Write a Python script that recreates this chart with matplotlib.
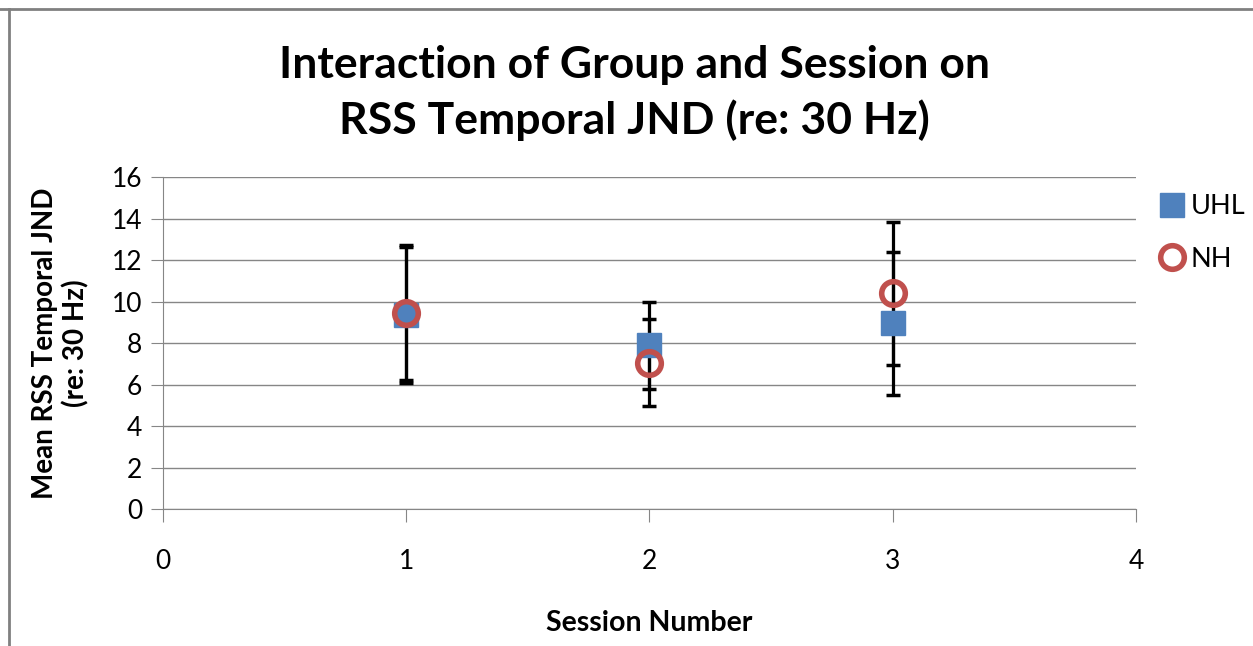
import matplotlib.pyplot as plt
from matplotlib.lines import Line2D

sessions = [1, 2, 3]
uhl_mean = [9.35, 7.9, 8.95]
uhl_err = [3.3, 2.1, 3.45]
nh_mean = [9.45, 7.05, 10.4]
nh_err = [3.25, 2.1, 3.45]

plt.rcParams['font.family'] = ['Lato', 'DejaVu Sans']

fig = plt.figure(figsize=(12.53, 6.46), dpi=100)
ax = fig.add_axes([0.130, 0.212, 0.7766, 0.514])

# error bars first, markers on top
ax.errorbar(sessions, uhl_mean, yerr=uhl_err, fmt='none', ecolor='black',
            elinewidth=2.3, capsize=5, capthick=2.5, zorder=3)
ax.errorbar(sessions, nh_mean, yerr=nh_err, fmt='none', ecolor='black',
            elinewidth=2.3, capsize=5, capthick=2.5, zorder=3)
ax.plot(sessions, uhl_mean, 's', color='#4F81BD', markersize=17, label='UHL',
        markeredgecolor='#4F81BD', zorder=4)
ax.plot(sessions, nh_mean, 'o', markerfacecolor='none', markeredgecolor='#C0504D',
        markeredgewidth=4, markersize=17, label='NH', zorder=5)

ax.set_xlim(0, 4)
ax.set_ylim(0, 16)
ax.set_xticks([0, 1, 2, 3, 4])
ax.set_yticks(range(0, 17, 2))
ax.yaxis.grid(True, color='#868686', linewidth=1)
ax.set_axisbelow(True)
for s in ['top', 'right']:
    ax.spines[s].set_visible(False)
for s in ['left', 'bottom']:
    ax.spines[s].set_color('#868686')
ax.tick_params(axis='both', colors='#868686', labelcolor='black', labelsize=19,
               length=9, direction='out')
ax.tick_params(axis='x', pad=20)
ax.tick_params(axis='y', pad=6)

ax.set_xlabel('Session Number', fontsize=20.5, fontweight='bold', labelpad=26)
ax.set_ylabel('Mean RSS Temporal JND\n(re: 30 Hz)', fontsize=20, fontweight='bold',
              labelpad=16, linespacing=1.2)
fig.text(0.506, 0.856, 'Interaction of Group and Session on\nRSS Temporal JND (re: 30 Hz)',
         ha='center', va='center', fontsize=32, fontweight='bold', linespacing=1.42)

ax.legend(loc='upper left', bbox_to_anchor=(1.012, 0.98), frameon=False, fontsize=19.5,
          handletextpad=0.2, labelspacing=1.0, handlelength=1.0, borderaxespad=0)

# outer chart border (top and left visible)
fig.add_artist(Line2D([0, 1], [1 - 9 / 646] * 2, transform=fig.transFigure,
                      color='#808080', linewidth=2))
fig.add_artist(Line2D([9 / 1253] * 2, [0, 1 - 9 / 646], transform=fig.transFigure,
                      color='#808080', linewidth=2))

fig.savefig('out.png', dpi=100)
